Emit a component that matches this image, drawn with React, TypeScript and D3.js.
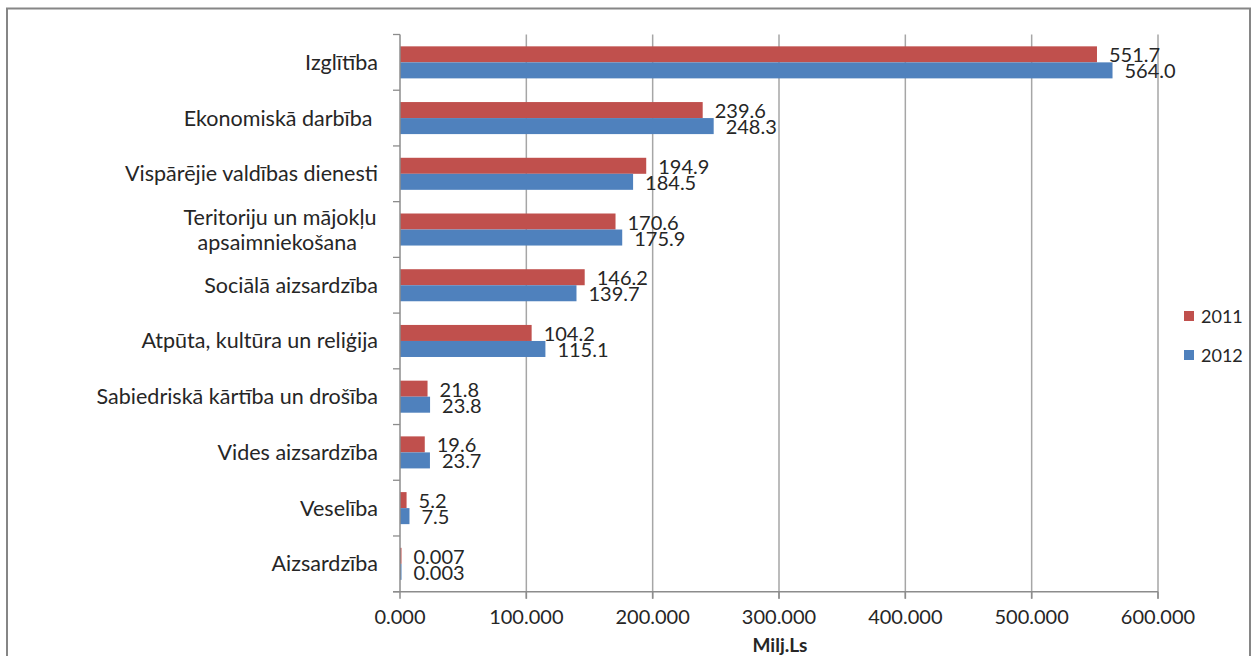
import React from "react";
import * as d3 from "d3";

const categories = [
  "Izglītība",
  "Ekonomiskā darbība ",
  "Vispārējie valdības dienesti",
  "Teritoriju un mājokļu|apsaimniekošana ",
  "Sociālā aizsardzība",
  "Atpūta, kultūra un reliģija",
  "Sabiedriskā kārtība un drošība",
  "Vides aizsardzība",
  "Veselība",
  "Aizsardzība",
];
const values2011 = [551.7, 239.6, 194.9, 170.6, 146.2, 104.2, 21.8, 19.6, 5.2, 0.007];
const values2012 = [564.0, 248.3, 184.5, 175.9, 139.7, 115.1, 23.8, 23.7, 7.5, 0.003];
const labels2011 = ["551.7", "239.6", "194.9", "170.6", "146.2", "104.2", "21.8", "19.6", "5.2", "0.007"];
const labels2012 = ["564.0", "248.3", "184.5", "175.9", "139.7", "115.1", "23.8", "23.7", "7.5", "0.003"];
const seriesNames = ["2011", "2012"];
const xTicks = [0, 100, 200, 300, 400, 500, 600];
const axisTitle = "Milj.Ls";

const COLORS = ["#C0504D", "#4F81BD"];
const FONT = "Lato, 'Open Sans', sans-serif";
const TEXT = "#262626";

export default function App() {
  const left = 400, right = 1158, top = 34.5, bottom = 591.7;
  const x = d3.scaleLinear().domain([0, 600]).range([left, right]);
  const y = d3.scaleBand<string>().domain(categories).range([top, bottom]).paddingInner(0.425).paddingOuter(0.2125);
  const y1 = d3.scaleBand<string>().domain(seriesNames).range([0, y.bandwidth()]);
  const step = y.step();
  const series = [values2011, values2012];
  const labels = [labels2011, labels2012];

  return (
    <svg width={1254} height={656} style={{ position: "absolute", left: 0, top: 0, background: "#fff" }}>
      <rect x={7} y={8.5} width={1243} height={700} fill="#fff" stroke="#868686" strokeWidth={2} />
      {/* gridlines */}
      {xTicks.slice(1).map((t) => (
        <line key={"g" + t} x1={x(t)} x2={x(t)} y1={top} y2={bottom + 7} stroke="#a6a6a6" strokeWidth={1.5} />
      ))}
      {/* category ticks */}
      {d3.range(categories.length + 1).map((i) => (
        <line key={"ct" + i} x1={left - 7} x2={left} y1={top + i * step} y2={top + i * step} stroke="#8c8c8c" strokeWidth={1.3} />
      ))}
      {/* bars */}
      {categories.map((c, i) => (
        <g key={c}>
          {series.map((s, k) => {
            const by = (y(c) as number) + (y1(seriesNames[k]) as number);
            const w = Math.max(x(s[i]) - x(0), 1.5);
            return (
              <g key={k}>
                <rect x={x(0)} y={by} width={w} height={y1.bandwidth()} fill={COLORS[k]} />
                <text
                  x={x(0) + w + 12}
                  y={by + y1.bandwidth() / 2 + 1}
                  dy="0.35em"
                  fontFamily={FONT}
                  fontSize={20}
                  fill={TEXT}
                >
                  {labels[k][i]}
                </text>
              </g>
            );
          })}
        </g>
      ))}
      {/* axes */}
      <line x1={left} x2={left} y1={top} y2={bottom} stroke="#8c8c8c" strokeWidth={1.5} />
      <line x1={left - 7} x2={right} y1={bottom} y2={bottom} stroke="#8c8c8c" strokeWidth={1.5} />
      {xTicks.map((t) => (
        <g key={"t" + t}>
          <line x1={x(t)} x2={x(t)} y1={bottom} y2={bottom + 7} stroke="#8c8c8c" strokeWidth={1.5} />
          <text x={x(t)} y={617} dy="0.35em" textAnchor="middle" fontFamily={FONT} fontSize={20} fill={TEXT}>
            {d3.format(".3f")(t)}
          </text>
        </g>
      ))}
      <text x={780} y={645} dy="0.35em" textAnchor="middle" fontFamily={FONT} fontSize={19} fontWeight="bold" fill={TEXT}>
        {axisTitle}
      </text>
      {/* category labels */}
      {categories.map((c) => {
        const parts = c.split("|");
        const cy = (y(c) as number) + y.bandwidth() / 2;
        const multi = parts.length > 1;
        return (
          <text key={"l" + c} fontFamily={FONT} fontSize={21.5} fill={TEXT} style={{ whiteSpace: "pre" }}>
            {parts.map((p, j) => (
              <tspan key={j} x={multi ? 280 : 378} textAnchor={multi ? "middle" : "end"} y={cy + (j - (parts.length - 1) / 2) * 25} dy="0.35em">
                {p}
              </tspan>
            ))}
          </text>
        );
      })}
      {/* legend */}
      {seriesNames.map((s, k) => (
        <g key={"lg" + s}>
          <rect x={1184} y={311 + k * 39} width={10} height={10} fill={COLORS[k]} />
          <text x={1201} y={316.5 + k * 39} dy="0.35em" fontFamily={FONT} fontSize={18} fill={TEXT}>
            {s}
          </text>
        </g>
      ))}
    </svg>
  );
}
